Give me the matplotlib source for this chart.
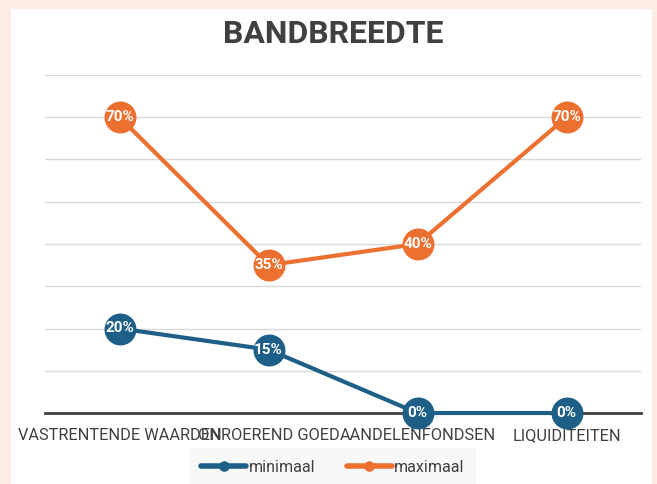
import matplotlib
matplotlib.use("Agg")
import matplotlib.pyplot as plt
from matplotlib.patches import Rectangle

categories = ["VASTRENTENDE WAARDEN", "ONROEREND GOED", "AANDELENFONDSEN", "LIQUIDITEITEN"]
minimaal = [20, 15, 0, 0]
maximaal = [70, 35, 40, 70]

BLUE = "#1D5F87"
ORANGE = "#EC7030"
TEXT = "#404040"

plt.rcParams['font.family'] = ['Roboto', 'DejaVu Sans']

fig = plt.figure(figsize=(6.57, 4.84), dpi=100)
fig.patch.set_facecolor("#FDECE3")
# white chart panel
fig.patches.append(Rectangle((11 / 657, 0), 641 / 657, 475 / 484, transform=fig.transFigure,
                             facecolor="white", edgecolor="none", zorder=-10))

ax = fig.add_axes([45 / 657, (484 - 413) / 484, 596 / 657, 338 / 484])
ax.set_facecolor("none")

x = list(range(len(categories)))
for vals, color, name in [(minimaal, BLUE, "minimaal"), (maximaal, ORANGE, "maximaal")]:
    ax.plot(x, vals, color=color, lw=3, marker="o", markersize=22, label=name,
            solid_capstyle="round", zorder=3, clip_on=False)
    for xi, v in zip(x, vals):
        ax.text(xi, v, f"{v}%", ha="center", va="center", color="white",
                fontsize=11, fontweight="bold", zorder=4)

ax.set_xlim(-0.5, 3.5)
ax.set_ylim(0, 80)
ax.set_yticks(range(10, 81, 10))
ax.yaxis.grid(True, color="#D9D9D9", lw=1)
ax.set_axisbelow(True)
ax.tick_params(axis="y", left=False, labelleft=False)
ax.tick_params(axis="x", length=0, pad=11, labelsize=11.8, labelcolor=TEXT)
ax.set_xticks(x)
ax.set_xticklabels(categories)
for side in ["top", "right", "left"]:
    ax.spines[side].set_visible(False)
ax.spines["bottom"].set_color(TEXT)
ax.spines["bottom"].set_linewidth(2)

fig.text(333 / 657, 1 - 34 / 484, "BANDBREEDTE", ha="center", va="center",
         fontsize=23, fontweight="bold", color=TEXT)

handles, labels = ax.get_legend_handles_labels()
leg = fig.legend(handles, labels, loc="center", bbox_to_anchor=(333 / 657, 1 - 467 / 484),
                 ncol=2, frameon=True, fontsize=11.5, markerscale=0.3, handlelength=2.8,
                 columnspacing=2.0, handletextpad=0.15, borderpad=0.7)
leg.get_frame().set_facecolor("#F7F7F7")
leg.get_frame().set_edgecolor("none")
leg.get_frame().set_boxstyle("square", pad=0.0)
for line in leg.get_lines():
    line.set_linewidth(4)
for t in leg.get_texts():
    t.set_color(TEXT)

fig.savefig("out.png", dpi=100, facecolor=fig.get_facecolor())
